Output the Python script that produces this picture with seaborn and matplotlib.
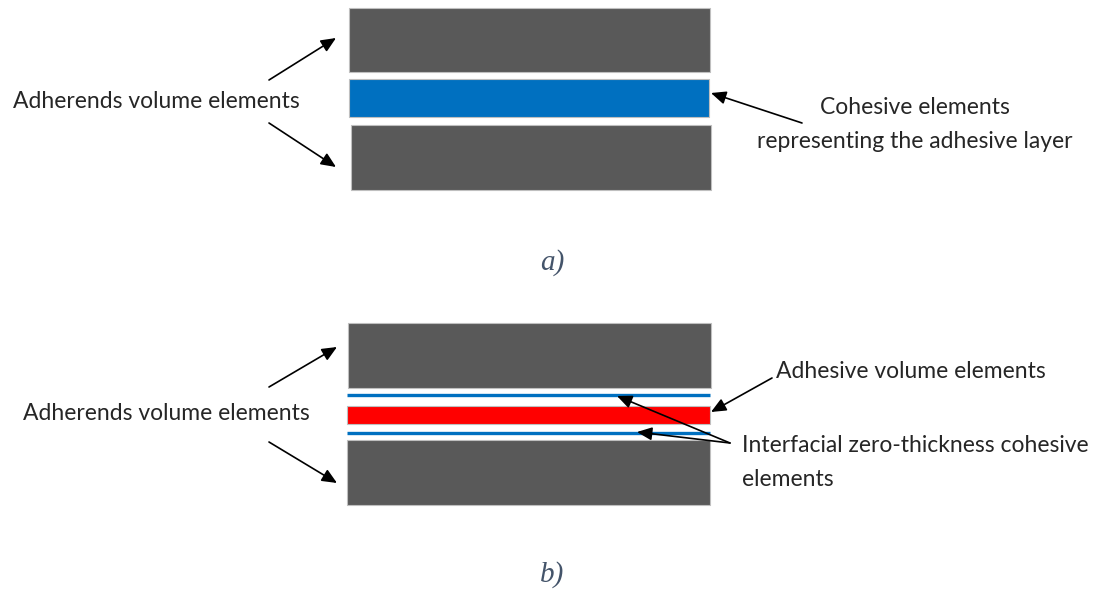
import matplotlib
matplotlib.use("Agg")
import matplotlib.pyplot as plt
import seaborn as sns

sns.set_style("white")
plt.rcParams['font.family'] = ['Lato', 'DejaVu Sans']

# ---- diagram content ----
layers_a_names = ["adherend_top", "cohesive", "adherend_bottom"]
layers_a_top = [8, 79, 125]
layers_a_bottom = [72, 117, 190]
layers_a_left = [349, 349, 351]
layers_a_right = [710, 709, 711]
layers_a_colors = ["#595959", "#0070C0", "#595959"]

layers_b_names = ["adherend_top", "adhesive", "adherend_bottom"]
layers_b_top = [323, 406, 440]
layers_b_bottom = [388, 424, 505]
layers_b_left = [348, 347, 347]
layers_b_right = [711, 710, 710]
layers_b_colors = ["#595959", "#FF0000", "#595959"]

interface_y = [395, 433]
interface_left = 347
interface_right = 710

labels_text = ["Adherends volume elements", "Cohesive elements",
               "representing the adhesive layer", "Adherends volume elements",
               "Adhesive volume elements", "Interfacial zero-thickness cohesive",
               "elements"]

fig = plt.figure(figsize=(10.97, 5.92), dpi=100)
ax = fig.add_axes([0, 0, 1, 1])
ax.set_xlim(0, 1097)
ax.set_ylim(592, 0)
ax.axis("off")

def draw_layers(tops, bottoms, lefts, rights, colors):
    for t, b, l, r, c in zip(tops, bottoms, lefts, rights, colors):
        ax.barh((t + b) / 2, r - l, height=b - t, left=l, color=c,
                edgecolor="#BFBFBF", linewidth=0.8)

draw_layers(layers_a_top, layers_a_bottom, layers_a_left, layers_a_right, layers_a_colors)
draw_layers(layers_b_top, layers_b_bottom, layers_b_left, layers_b_right, layers_b_colors)
for y in interface_y:
    ax.plot([interface_left, interface_right], [y, y], color="#0070C0", lw=2.4,
            solid_capstyle="butt")

def arrow(x0, y0, x1, y1):
    ax.annotate("", xy=(x1, y1), xytext=(x0, y0),
                arrowprops=dict(arrowstyle="-|>,head_length=0.5,head_width=0.22",
                                color="black", lw=1.2,
                                mutation_scale=18, shrinkA=0, shrinkB=0))

fs = 16.5
tc = "#262626"
# panel a
ax.text(13, 101, labels_text[0], fontsize=fs, va="center", ha="left", color=tc)
arrow(269, 80, 336, 38)
arrow(269, 123, 336, 167)
ax.text(915, 108, labels_text[1], fontsize=fs, va="center", ha="center", color=tc)
ax.text(915, 142, labels_text[2], fontsize=fs, va="center", ha="center", color=tc)
arrow(802, 123, 711, 93)
ax.text(552, 263, "a)", fontsize=21, va="center", ha="center", style="italic",
        family="Liberation Serif", color="#44546A")

# panel b
ax.text(23, 413, labels_text[3], fontsize=fs, va="center", ha="left", color=tc)
arrow(269, 387, 337, 347)
arrow(269, 442, 337, 483)
ax.text(776, 371, labels_text[4], fontsize=fs, va="center", ha="left", color=tc)
arrow(772, 378, 711, 412)
ax.text(742, 446, labels_text[5], fontsize=fs, va="center", ha="left", color=tc)
ax.text(742, 479, labels_text[6], fontsize=fs, va="center", ha="left", color=tc)
arrow(730, 443, 617, 396)
arrow(730, 443, 637, 432)
ax.text(552, 575, "b)", fontsize=21, va="center", ha="center", style="italic",
        family="Liberation Serif", color="#44546A")

fig.savefig("out.png", dpi=100)
